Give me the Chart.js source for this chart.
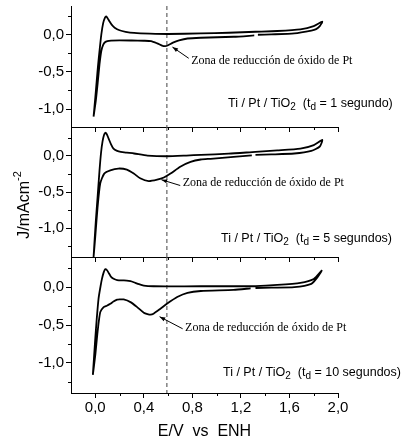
<!DOCTYPE html>
<html>
<head>
<meta charset="utf-8">
<script src="https://cdn.jsdelivr.net/npm/chart.js@4.4.1/dist/chart.umd.min.js"></script>
<style>
  body { margin: 0; background: #fff; }
  #wrap { position: relative; width: 403px; height: 441px; overflow: hidden; }
  canvas { position: absolute; left: 0; }
</style>
</head>
<body>
<div id="wrap">
  <canvas id="c1" width="403" height="156" style="top:-14px"></canvas>
  <canvas id="c2" width="403" height="165" style="top:107px"></canvas>
  <canvas id="c3" width="403" height="204" style="top:237px"></canvas>
</div>
<script>
// tick values (E in V vs ENH, J in mA/cm2)
const xMajor = [0, 0.4, 0.8, 1.2, 1.6, 2.0];
const xMinor = [0.2, 0.6, 1.0, 1.4, 1.8];
const yMajor = [-1.0, -0.5, 0.0];
const yMinor = [-1.25, -0.75, -0.25, 0.25];
const dashE = 0.59;
const panelTimes = ["1 segundo", "5 segundos", "10 segundos"];
const noteText = "Zona de reducción de óxido de Pt";

// panel 1 (td = 1 s): anodic sweep then cathodic sweep, null = break in trace
const p1E = [-0.014, 0.0, 0.012, 0.022, 0.035, 0.05, 0.065, 0.08, 0.09, 0.1, 0.115, 0.135, 0.16, 0.2, 0.25, 0.32, 0.45, 0.6, 0.87, 1.1, 1.32, 1.5, 1.69, 1.8, 1.87,
  1.85, 1.82, 1.78, 1.64, 1.45, 1.34, 1.325, 1.31, 1.14, 0.87, 0.76, 0.69, 0.64, 0.6, 0.575, 0.55, 0.51, 0.46, 0.4, 0.3, 0.2, 0.13, 0.1, 0.08, 0.065, 0.05, 0.035, 0.02, 0.005, -0.014];
const p1J = [-1.10, -0.85, -0.62, -0.43, -0.22, 0.0, 0.15, 0.225, 0.24, 0.22, 0.18, 0.13, 0.09, 0.055, 0.035, 0.02, 0.01, 0.005, 0.013, 0.022, 0.035, 0.045, 0.067, 0.11, 0.17,
  0.11, 0.07, 0.05, 0.013, 0.0, -0.005, null, -0.014, -0.032, -0.045, -0.055, -0.08, -0.11, -0.145, -0.158, -0.15, -0.12, -0.09, -0.085, -0.082, -0.08, -0.083, -0.09, -0.105, -0.14, -0.22, -0.4, -0.65, -0.88, -1.10];

// panel 2 (td = 5 s)
const p2E = [-0.014, -0.005, 0.005, 0.02, 0.035, 0.048, 0.06, 0.072, 0.083, 0.095, 0.11, 0.13, 0.15, 0.18, 0.21, 0.26, 0.32, 0.43, 0.59, 0.75, 0.87, 1.1, 1.32, 1.5, 1.69, 1.8, 1.87,
  1.85, 1.78, 1.64, 1.45, 1.32, 1.305, 1.29, 1.14, 0.95, 0.87, 0.785, 0.70, 0.62, 0.565, 0.51, 0.44, 0.37, 0.317, 0.26, 0.19, 0.124, 0.074, 0.041, 0.019, 0.0, -0.014];
const p2J = [-1.40, -1.15, -0.89, -0.55, -0.2, 0.05, 0.2, 0.29, 0.32, 0.30, 0.24, 0.16, 0.10, 0.07, 0.056, 0.045, 0.033, 0.005, -0.005, 0.005, 0.015, 0.03, 0.056, 0.075, 0.10, 0.15, 0.22,
  0.13, 0.07, 0.033, 0.02, 0.014, null, 0.008, -0.014, -0.04, -0.05, -0.083, -0.15, -0.245, -0.30, -0.33, -0.35, -0.31, -0.245, -0.19, -0.175, -0.20, -0.245, -0.38, -0.71, -1.12, -1.40];

// panel 3 (td = 10 s)
const p3E = [-0.02, -0.01, 0.0, 0.012, 0.027, 0.042, 0.055, 0.07, 0.083, 0.097, 0.11, 0.125, 0.138, 0.16, 0.18, 0.22, 0.26, 0.29, 0.317, 0.36, 0.40, 0.48, 0.6, 0.87, 1.1, 1.32, 1.5, 1.69, 1.8, 1.865,
  1.83, 1.78, 1.64, 1.45, 1.32, 1.30, 1.28, 1.14, 0.87, 0.76, 0.675, 0.59, 0.537, 0.48, 0.455, 0.43, 0.40, 0.345, 0.29, 0.234, 0.2, 0.18, 0.15, 0.124, 0.095, 0.069, 0.041, 0.019, 0.0, -0.02];
const p3J = [-1.16, -0.92, -0.68, -0.42, -0.15, 0.0, 0.11, 0.2, 0.24, 0.225, 0.19, 0.15, 0.125, 0.105, 0.095, 0.09, 0.088, 0.08, 0.066, 0.04, 0.022, 0.013, 0.012, 0.013, 0.013, 0.015, 0.03, 0.058, 0.11, 0.22,
  0.13, 0.045, 0.0, -0.005, -0.01, null, -0.015, -0.035, -0.05, -0.074, -0.13, -0.22, -0.285, -0.35, -0.363, -0.355, -0.337, -0.263, -0.197, -0.162, -0.16, -0.165, -0.19, -0.22, -0.245, -0.263, -0.33, -0.59, -0.90, -1.16];

const SANS = "Arial, 'Liberation Sans', sans-serif";
const SERIF = "'Times New Roman', 'Liberation Serif', serif";
const fmt = v => v.toFixed(1).replace(".", ",").replace("-0,0", "0,0");

// dashed line, arrow + note, panel label, minor ticks, y title
const decor = {
  id: "decor",
  beforeDatasetsDraw(chart) {
    const { ctx, chartArea: a, scales: { x } } = chart;
    const px = x.getPixelForValue(dashE);
    ctx.save();
    ctx.strokeStyle = "#555";
    ctx.lineWidth = 1.1;
    ctx.setLineDash([4, 3]);
    ctx.beginPath();
    ctx.moveTo(px, a.top);
    ctx.lineTo(px, a.bottom);
    ctx.stroke();
    ctx.restore();
  },
  afterDraw(chart, args, o) {
    const { ctx, chartArea: a, scales: { x, y } } = chart;
    ctx.save();
    ctx.strokeStyle = "#000";
    ctx.fillStyle = "#000";
    ctx.lineWidth = 1;
    // minor ticks
    ctx.beginPath();
    xMinor.forEach(v => {
      const px = Math.round(x.getPixelForValue(v)) + 0.5;
      ctx.moveTo(px, a.bottom);
      ctx.lineTo(px, a.bottom + 3);
    });
    yMinor.forEach(v => {
      if (v < y.min || v > y.max) return;
      const py = Math.round(y.getPixelForValue(v)) + 0.5;
      ctx.moveTo(a.left - 3, py);
      ctx.lineTo(a.left, py);
    });
    ctx.stroke();

    // arrow to the reduction peak
    const tx = x.getPixelForValue(o.tip[0]), ty = y.getPixelForValue(o.tip[1]);
    const sx = x.getPixelForValue(o.tail[0]), sy = y.getPixelForValue(o.tail[1]);
    ctx.beginPath();
    ctx.moveTo(sx, sy);
    ctx.lineTo(tx, ty);
    ctx.stroke();
    const ang = Math.atan2(ty - sy, tx - sx);
    ctx.beginPath();
    ctx.moveTo(tx, ty);
    ctx.lineTo(tx - 6 * Math.cos(ang - 0.35), ty - 6 * Math.sin(ang - 0.35));
    ctx.lineTo(tx - 6 * Math.cos(ang + 0.35), ty - 6 * Math.sin(ang + 0.35));
    ctx.closePath();
    ctx.fill();

    ctx.font = "12px " + SERIF;
    ctx.textBaseline = "middle";
    ctx.textAlign = "left";
    ctx.fillText(noteText, x.getPixelForValue(o.text[0]), y.getPixelForValue(o.text[1]));

    // panel label with subscripts
    const parts = [["Ti / Pt / TiO", 0], ["2", 1], ["  (t", 0], ["d", 1], [" = " + o.time + ")", 0]];
    let cx = o.labelX;
    const cy = a.bottom - o.labelUp;
    ctx.textBaseline = "alphabetic";
    parts.forEach(([t, sub]) => {
      ctx.font = (sub ? "10px " : "12.5px ") + SANS;
      ctx.fillText(t, cx, cy + (sub ? 3 : 0));
      cx += ctx.measureText(t).width;
    });

    // y axis title on the middle panel
    if (o.yTitle) {
      ctx.translate(25, a.top + (a.bottom - a.top) / 2 + 13);
      ctx.rotate(-Math.PI / 2);
      ctx.font = "16px " + SANS;
      const w1 = ctx.measureText("J/mAcm").width;
      ctx.font = "11px " + SANS;
      const w2 = ctx.measureText("-2").width;
      let sx0 = -(w1 + w2) / 2;
      ctx.font = "16px " + SANS;
      ctx.textBaseline = "middle";
      ctx.fillText("J/mAcm", sx0, 0);
      ctx.font = "11px " + SANS;
      ctx.fillText("-2", sx0 + w1, -7);
    }
    ctx.restore();
  }
};

function makePanel(id, E, J, yMin, yMax, note, bottom) {
  return new Chart(document.getElementById(id), {
    type: "scatter",
    data: {
      datasets: [{
        data: E.map((e, i) => ({ x: e, y: J[i] })),
        showLine: true,
        spanGaps: false,
        borderColor: "#000",
        borderWidth: 1.8,
        pointRadius: 0,
        tension: 0.2,
      }],
    },
    options: {
      responsive: false,
      animation: false,
      devicePixelRatio: 1,
      layout: { padding: { top: 20, left: 0, right: 65, bottom: 0 } },
      plugins: { legend: { display: false }, tooltip: { enabled: false }, decor: note },
      scales: {
        x: {
          type: "linear",
          min: -0.2,
          max: 2.0,
          afterBuildTicks: s => { s.ticks = xMajor.map(v => ({ value: v })); },
          afterFit: s => { s.height = bottom ? 48 : 15; },
          border: { display: true, color: "#000", width: 1 },
          grid: { display: true, drawOnChartArea: false, drawTicks: true, tickLength: 5, color: "#000" },
          ticks: {
            display: bottom,
            autoSkip: false,
            maxRotation: 0,
            padding: 1,
            color: "#000",
            font: { family: SANS, size: 15 },
            callback: v => fmt(v),
          },
          title: {
            display: bottom,
            text: "E/V  vs  ENH",
            color: "#000",
            font: { family: SANS, size: 16 },
            padding: { top: 0, bottom: 0 },
          },
        },
        y: {
          min: yMin,
          max: yMax,
          afterBuildTicks: s => { s.ticks = yMajor.map(v => ({ value: v })); },
          afterFit: s => { s.width = 71; },
          border: { display: true, color: "#000", width: 1 },
          grid: { display: true, drawOnChartArea: false, drawTicks: true, tickLength: 5, color: "#000" },
          ticks: {
            padding: 2,
            color: "#000",
            font: { family: SANS, size: 15 },
            callback: v => fmt(v),
          },
        },
      },
    },
    plugins: [decor],
  });
}

makePanel("c1", p1E, p1J, -1.24, 0.38,
  { tip: [0.636, -0.17], tail: [0.77, -0.32], text: [0.79, -0.35], time: panelTimes[0], labelX: 228, labelUp: 20 }, false);
makePanel("c2", p2E, p2J, -1.4, 0.4,
  { tip: [0.545, -0.33], tail: [0.70, -0.41], text: [0.72, -0.38], time: panelTimes[1], labelX: 221, labelUp: 15, yTitle: true }, false);
makePanel("c3", p3E, p3J, -1.4, 0.4,
  { tip: [0.53, -0.39], tail: [0.72, -0.55], text: [0.74, -0.54], time: panelTimes[2], labelX: 223, labelUp: 17 }, true);
</script>
</body>
</html>
